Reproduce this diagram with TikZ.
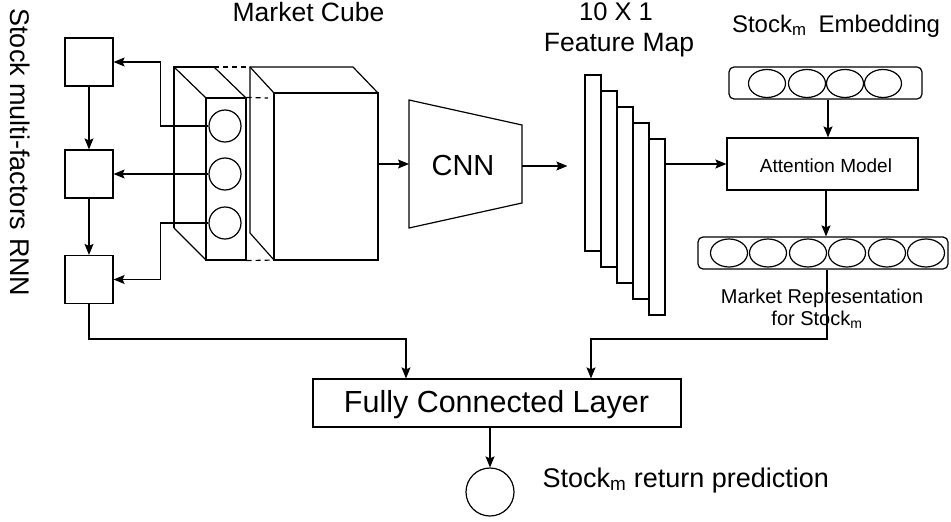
\documentclass[tikz,border=0pt]{standalone}
\usepackage{fontspec}
\setmainfont{Liberation Sans}
\usetikzlibrary{arrows.meta,shapes.geometric}
\newcommand\fsz[1]{\fontsize{#1}{#1}\selectfont}
\begin{document}
\begin{tikzpicture}[x=1pt,y=-1pt,line width=1.2pt,
  arr/.style={-{Stealth[length=11pt,width=9pt,inset=2pt]}},
  txt/.style={inner sep=0pt,anchor=base},
  sqbox/.style={draw,minimum width=48pt,minimum height=48pt,inner sep=0pt},
  slabcirc/.style={draw,circle,minimum size=32pt,inner sep=0pt},
  ell/.style={draw,ellipse,minimum width=37pt,minimum height=28pt,inner sep=0pt},
  fmbox/.style={draw,fill=white,minimum width=16pt,minimum height=176pt,inner sep=0pt},
  rowbox/.style={draw,rounded corners=5pt,minimum height=32pt,inner sep=0pt},
  dsh/.style={dash pattern=on 5pt off 4pt}]
\useasboundingbox (0,0) rectangle (951,522);

% labels
\node[txt,rotate=-90,font=\fsz{27}] (rnnlbl) at (10,152.5) {Stock multi-factors RNN};
\node[txt,font=\fsz{26.5}] (mclbl) at (308.5,21) {Market Cube};
\node[txt,font=\fsz{25.5}] (fmlbl1) at (616,20.5) {10 X 1};
\node[txt,font=\fsz{26.5}] (fmlbl2) at (619,51) {Feature Map};
\node[txt,font=\fsz{24}] (emblbl) at (836,32) {Stock\textsubscript{m}\hspace{12pt}Embedding};

% RNN boxes
\node[sqbox] (r1) at (89,62) {};
\node[sqbox] (r2) at (89,174) {};
\node[sqbox] (r3) at (89,279.5) {};
\draw[arr] (r1.south) -- (r2.north);
\draw[arr] (r2.south) -- (r3.north);

% market cube: slab
\draw (174,228) -- (174,67) -- (214,67);
\draw[dsh] (214,67) -- (250,67);
\draw (174,67) -- (206,98);
\draw (214,67) -- (246,98);
\draw (174,228) -- (206,260);
\node[draw,minimum width=40pt,minimum height=162pt,inner sep=0pt] (slab) at (226,179) {};
\draw[dsh] (slab.north east) -- (268,98);
\draw[dsh] (slab.south east) -- (274,260);
% big box
\draw (250,233) -- (250,67) -- (353,67) -- (378,93);
\draw (250,67) -- (274,93);
\draw (250,233) -- (274,260);
\node[draw,minimum width=104pt,minimum height=167pt,inner sep=0pt] (cube) at (326,176.5) {};

% circles in slab
\node[slabcirc] (c1) at (225,126) {};
\node[slabcirc] (c2) at (225,174) {};
\node[slabcirc] (c3) at (225,223) {};
\draw[arr] (c1.west) -- ++(-48,0) |- (r1.east);
\draw[arr] (c2.west) -- (r2.east);
\draw[arr] (c3.west) -- ++(-48,0) |- (r3.east);

% CNN
\coordinate (cnnL) at (409,164);
\coordinate (cnnR) at (522,166);
\draw (409,100) -- (522,125) -- (522,203) -- (409,228) -- cycle;
\node[txt,font=\fsz{29}] (cnn) at (463,175) {CNN};
\draw[arr] (cube.east |- cnnL) -- (cnnL);

% feature map
\node[fmbox] (fm1) at (593,163) {};
\node[fmbox] (fm2) at (609,179) {};
\node[fmbox] (fm3) at (625,195) {};
\node[fmbox] (fm4) at (641,211) {};
\node[fmbox] (fm5) at (657,227) {};
\draw[arr,shorten >=17pt] (cnnR) -- (fm1.west |- cnnR);

% helper x positions
\coordinate (xa) at (828,0);
\coordinate (xb) at (826,0);
\coordinate (xc) at (827,0);

% embedding
\node[rowbox,minimum width=193pt] (emb) at (825.5,83) {};
\foreach \i/\x in {1/767,2/807,3/845,4/883} \node[ell] (e\i) at (\x,83.5) {};

% attention
\node[draw,minimum width=191pt,minimum height=52pt,inner sep=0pt] (att) at (822.5,164) {};
\node[txt,font=\fsz{19}] (attlbl) at (826,172.5) {Attention Model};
\draw[arr] (fm5.east |- att.west) -- (att.west);
\draw[arr] (xa |- emb.south) -- (xa |- att.north);

% market representation
\node[rowbox,minimum width=250pt] (rep) at (823,253) {};
\foreach \i/\x in {1/729,2/768,3/808,4/847,5/887,6/926} \node[ell] (m\i) at (\x,253) {};
\draw[arr] (xb |- att.south) -- (xb |- rep.north);
\node[txt,font=\fsz{20}] (replbl1) at (822,303) {Market Representation};
\node[txt,font=\fsz{20}] (replbl2) at (817,325) {for Stock\textsubscript{m}};

% fully connected
\node[draw,minimum width=368pt,minimum height=48pt,inner sep=0pt] (fc) at (497,403) {};
\node[txt,font=\fsz{30.5}] (fclbl) at (496.5,412) {Fully Connected Layer};
\coordinate (j1) at (406,339);
\coordinate (j2) at (591,339);
\draw[arr] (r3.south) |- (j1) -- (j1 |- fc.north);
\draw[arr] (xc |- rep.south) |- (j2) -- (j2 |- fc.north);

% output
\node[draw,circle,minimum size=48pt,inner sep=0pt] (out) at (490,492) {};
\draw[arr] (out.north |- fc.south) -- (out.north);
\node[txt,anchor=base west,font=\fsz{27}] (outlbl) at (542,487) {Stock\textsubscript{m} return prediction};
\end{tikzpicture}
\end{document}
